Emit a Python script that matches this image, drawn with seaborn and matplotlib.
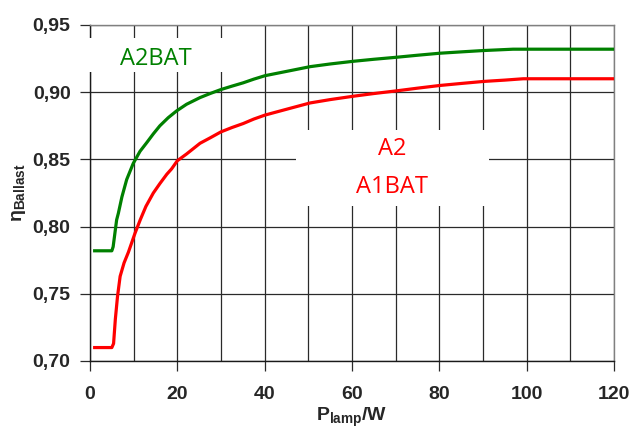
import numpy as np
import pandas as pd
import matplotlib
matplotlib.use('Agg')
import matplotlib.pyplot as plt
import seaborn as sns
from matplotlib.patches import Rectangle

# ---- data ----
green_x = [0.7, 5.0, 5.3, 5.7, 6.1, 6.5, 7.3, 8.4, 9.9, 11.45, 13.0, 14.5, 16.0, 17.9,
           19.8, 22.1, 25.2, 27.5, 30.0, 32.5, 35.1, 37.5, 40.1, 45.8,
           50.4, 55.0, 60.3, 65.0, 70.2, 75.0, 80.1, 85.0, 90.1, 96.9, 120.0]
green_y = [0.782, 0.782, 0.785, 0.795, 0.805, 0.810, 0.822, 0.835, 0.847, 0.856, 0.8625,
           0.869, 0.875, 0.881, 0.886, 0.891, 0.896, 0.899, 0.902, 0.9045, 0.907,
           0.9097, 0.9123, 0.916, 0.919, 0.921, 0.923, 0.9245, 0.926, 0.9275, 0.929,
           0.930, 0.931, 0.932, 0.932]
red_x = [0.7, 5.0, 5.4, 5.8, 6.3, 6.9, 7.8, 8.8, 10.3, 11.5, 12.8, 14.5, 16.0, 17.6,
         18.7, 20.0, 22.1, 25.2, 27.5, 30.0, 32.5, 35.1, 37.5, 40.1, 45.8, 50.4, 55.0,
         60.3, 65.0, 70.2, 75.0, 80.1, 85.0, 90.1, 95.0, 99.2, 120.0]
red_y = [0.710, 0.710, 0.713, 0.731, 0.748, 0.763, 0.773, 0.781, 0.795, 0.805, 0.815,
         0.825, 0.832, 0.839, 0.843, 0.849, 0.854, 0.862, 0.866, 0.8705, 0.8737,
         0.8767, 0.880, 0.883, 0.888, 0.892, 0.8945, 0.897, 0.899, 0.901, 0.903,
         0.905, 0.9065, 0.908, 0.909, 0.910, 0.910]
series_names = ['A2BAT', 'A1BAT']
x_ticks = [0, 20, 40, 60, 80, 100, 120]
x_minor = [10, 30, 50, 70, 90, 110]
y_ticks = [0.70, 0.75, 0.80, 0.85, 0.90, 0.95]
y_ticklabels = ['0,70', '0,75', '0,80', '0,85', '0,90', '0,95']

GREEN = '#008000'
RED = '#ff0000'

sns.set_theme(style='white')
plt.rcParams['font.family'] = ['Liberation Sans', 'DejaVu Sans']
plt.rcParams['mathtext.fontset'] = 'custom'
plt.rcParams['mathtext.rm'] = 'Liberation Sans'
plt.rcParams['mathtext.bf'] = 'Liberation Sans:bold'
plt.rcParams['mathtext.it'] = 'Liberation Sans:italic'

df = pd.concat([
    pd.DataFrame({'P': green_x, 'eta': green_y, 'series': series_names[0]}),
    pd.DataFrame({'P': red_x, 'eta': red_y, 'series': series_names[1]}),
], ignore_index=True)

fig = plt.figure(figsize=(6.31, 4.29), dpi=100)
ax = fig.add_axes([90 / 631, 1 - 361 / 429, 524 / 631, 336 / 429])

sns.lineplot(data=df, x='P', y='eta', hue='series',
             palette={series_names[0]: GREEN, series_names[1]: RED},
             linewidth=2.3, legend=False, ax=ax, sort=False, estimator=None)
for ln in ax.lines:
    ln.set_zorder(3)
    ln.set_solid_capstyle('butt')
    ln.set_solid_joinstyle('round')

ax.set_xlim(0, 120)
ax.set_ylim(0.70, 0.95)
ax.set_xticks(x_ticks)
ax.set_xticks(x_minor, minor=True)
ax.set_yticks(y_ticks)
ax.set_yticklabels(y_ticklabels)
ax.grid(which='both', color='#2a2a2a', linewidth=0.9)
ax.set_axisbelow(True)

ax.tick_params(axis='x', which='major', direction='out', length=7, width=0.9,
               color='#2a2a2a', pad=11, labelsize=14, bottom=True)
ax.tick_params(axis='x', which='minor', length=0)
ax.tick_params(axis='y', which='major', direction='out', length=7, width=0.9,
               color='#2a2a2a', pad=7, labelsize=14, left=True)
for lab in ax.get_xticklabels() + ax.get_yticklabels():
    lab.set_fontweight('bold')

for side in ['left', 'bottom']:
    ax.spines[side].set_color('#1a1a1a')
    ax.spines[side].set_linewidth(1.0)
for side in ['top', 'right']:
    ax.spines[side].set_color('#808080')
    ax.spines[side].set_linewidth(1.0)

ax.set_xlabel(r'$\mathbf{P_{lamp}/W}$', fontsize=14, labelpad=2)
ax.set_ylabel(r'$\mathbf{\eta_{Ballast}}$', fontsize=14, labelpad=3)

# white label boxes that hide the grid
ax.add_patch(Rectangle((-0.6, 0.915), 35.0, 0.0253, facecolor='white',
                       edgecolor='none', zorder=2.6, clip_on=False))
ax.add_patch(Rectangle((47.2, 0.8153), 44.2, 0.0566, facecolor='white',
                       edgecolor='none', zorder=2.6))

ax.text(15.2, 0.9202, 'A2BAT', color=GREEN, fontsize=17, family='Open Sans',
        ha='center', va='baseline', zorder=4)
ax.text(69.2, 0.8533, 'A2', color=RED, fontsize=17, family='Open Sans',
        ha='center', va='baseline', zorder=4)
ax.text(69.2, 0.8248, 'A1BAT', color=RED, fontsize=17, family='Open Sans',
        ha='center', va='baseline', zorder=4)

fig.savefig('out.png', dpi=100)
